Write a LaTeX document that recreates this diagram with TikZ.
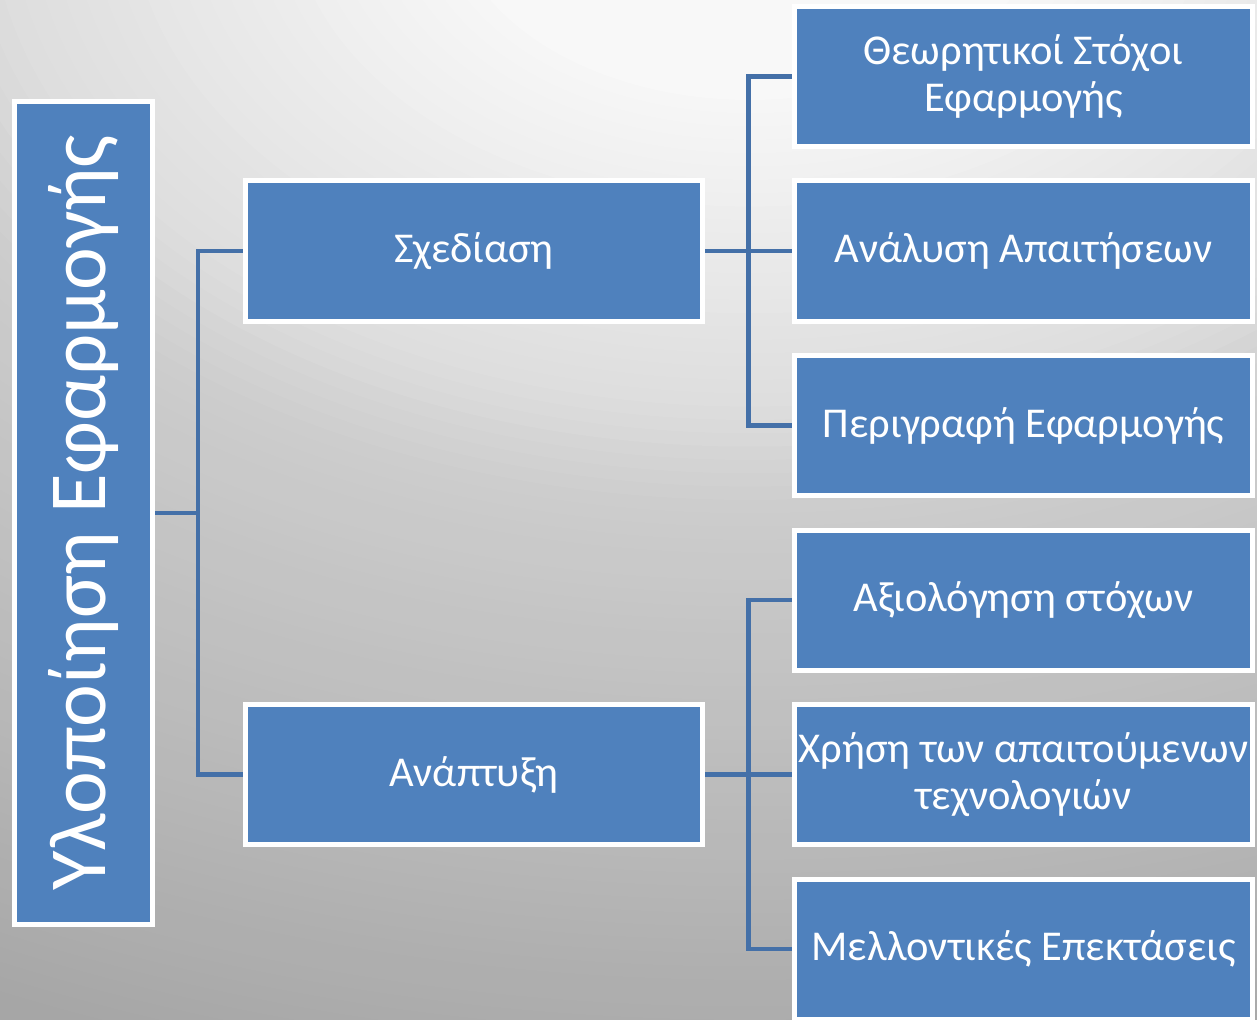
\documentclass[tikz,border=0pt]{standalone}
\usepackage{fontspec}
\setmainfont{Carlito}
\definecolor{boxblue}{HTML}{4F81BD}
\definecolor{linkblue}{HTML}{4470A8}
\definecolor{bgE}{HTML}{A6A6A6}
\begin{document}
\begin{tikzpicture}[x=1pt,y=-1pt,
  box/.style={draw=white, line width=5pt, fill=boxblue, text=white,
    minimum width=458pt, minimum height=140pt, inner sep=0pt, align=center,
    font=\fontsize{42.5}{47}\selectfont},
  midbox/.style={box, minimum width=457pt},
  rootbox/.style={box, rotate=90, minimum width=823pt, minimum height=138pt,
    font=\fontsize{81}{90}\selectfont},
  link/.style={draw=linkblue, line width=4.5pt}]
\useasboundingbox (0,0) rectangle (1257,1019);
\begin{scope}
  \clip (0,0) rectangle (1257,1019);
  \fill[bgE] (0,0) rectangle (1257,1019);
  \foreach \r in {1900,1880,...,20} {
    \pgfmathtruncatemacro\g{\r<300 ? 248 : (\r<765 ? 248-(\r-300)/465*26 : (\r<923 ? 222-(\r-765)/158*17 : (\r<1440 ? 205-(\r-923)/517*21 : max(166,184-(\r-1440)/398*18))))}
    \definecolor{bgtmp}{RGB}{\g,\g,\g}
    \fill[bgtmp] (750,-100) ellipse [x radius=\r, y radius=\r/1.5];
  }
\end{scope}

\node[rootbox] (root) at (83.5,512.75) {Υλοποίηση Εφαρμογής};

\node[midbox] (s) at (474,251) {Σχεδίαση};
\node[midbox] (a) at (474,774.5) {Ανάπτυξη};

\node[box] (r1) at (1023.5,76.5) {Θεωρητικοί Στόχοι\\Εφαρμογής};
\node[box] (r2) at (1023.5,251) {Ανάλυση Απαιτήσεων};
\node[box] (r3) at (1023.5,425.5) {Περιγραφή Εφαρμογής};
\node[box] (r4) at (1023.5,600) {Αξιολόγηση στόχων};
\node[box] (r5) at (1023.5,774.5) {Χρήση των απαιτούμενων\\τεχνολογιών};
\node[box] (r6) at (1023.5,949) {Μελλοντικές Επεκτάσεις};

\draw[link] (root.south) -- ++(43,0) |- (s.west);
\draw[link] (root.south) -- ++(43,0) |- (a.west);
\foreach \r in {r1,r2,r3}
  \draw[link] (s.east) -- ++(43.5,0) |- (\r.west);
\foreach \r in {r4,r5,r6}
  \draw[link] (a.east) -- ++(43.5,0) |- (\r.west);
\end{tikzpicture}
\end{document}
